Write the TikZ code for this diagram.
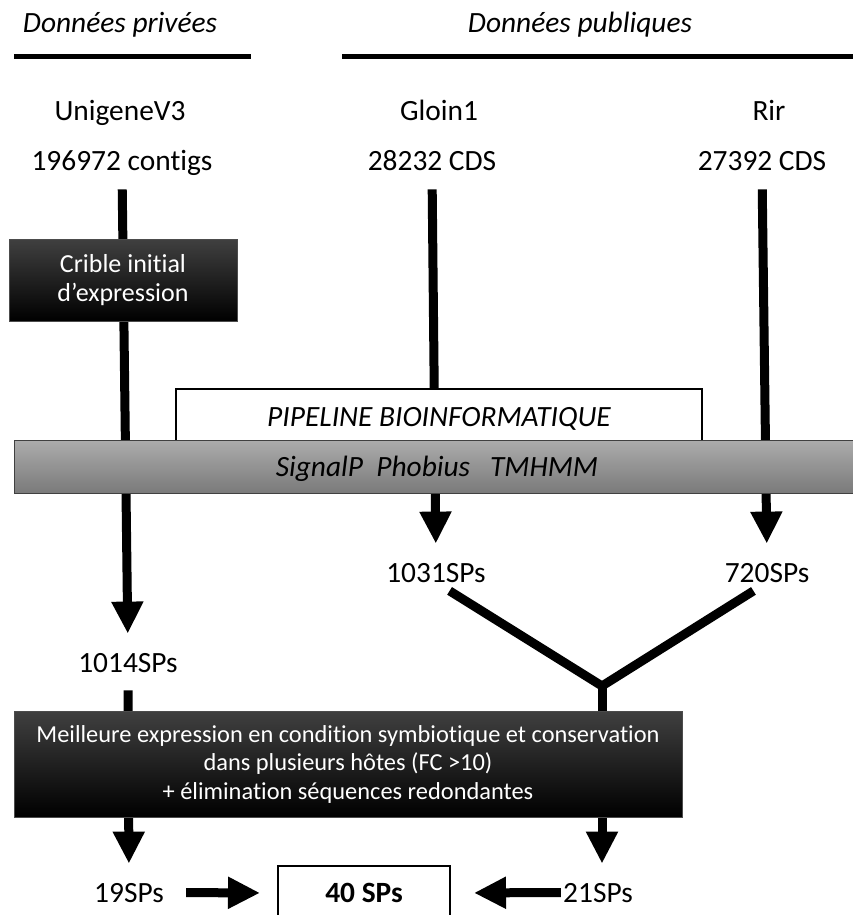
\documentclass[tikz,border=0pt]{standalone}
\usepackage{fontspec}
\setmainfont{Carlito}[Ligatures=NoCommon]
\usepackage{tikz}
\usetikzlibrary{arrows.meta}
\usetikzlibrary{positioning}
\tikzset{fleche/.style = {line width=4.5pt, shorten >=9.5pt,
                          -{Triangle[length=16pt, width=15pt]}}}
\tikzset{trait/.style = {line width=4.5pt}}
\tikzset{texte/.style = {inner sep=0pt, anchor=base, text height=9.5pt, text depth=0pt,
                         font=\fontsize{14.7}{17}\selectfont}}
\tikzset{boitenoire/.style = {draw=black!70, top color=black!75, bottom color=black,
                              text=white, align=center}}
\tikzset{barre/.style = {draw=black!75, top color=grisclair, bottom color=grisfonce,
                         text depth=0pt, font=\fontsize{14.7}{17}\selectfont\itshape}}
\definecolor{grisclair}{RGB}{172,172,172}
\definecolor{grisfonce}{RGB}{122,122,122}

\begin{document}
\begin{tikzpicture}[x=0.5pt, y=-0.5pt]
      \useasboundingbox (0, 0) rectangle (852, 915);

      % titres
      \node [texte, font=\fontsize{14.7}{17}\selectfont\itshape] (privees) at (120, 33) {Données privées};
      \node [texte, font=\fontsize{14.7}{17}\selectfont\itshape] (publiques) at (580, 33) {Données publiques};
      \draw [line width=2.5pt] (14, 57) -- (251, 57);
      \draw [line width=2.5pt] (342, 57) -- (860, 57);

      % sources
      \node [texte] (unigene) at (120, 120) {UnigeneV3};
      \node [texte] (unicount) at (122, 170) {196972 contigs};
      \node [texte] (gloin) at (439, 120) {Gloin1};
      \node [texte] (gloincount) at (432, 170) {28232 CDS};
      \node [texte] (rir) at (769, 120) {Rir};
      \node [texte] (rircount) at (762, 170) {27392 CDS};

      % resultats
      \node [texte] (sp1031) at (436, 582) {1031SPs};
      \node [texte] (sp720) at (767, 582) {720SPs};
      \node [texte] (sp1014) at (128, 672) {1014SPs};
      \node [texte] (sp19) at (129, 902) {19SPs};
      \node [texte] (sp21) at (598, 902) {21SPs};
      \node [draw, line width=1pt, minimum width=86pt, minimum height=27pt,
             font=\fontsize{14.7}{17}\selectfont\bfseries] (total) at (364, 893) {40 SPs};
      \coordinate (fusion) at (602, 686);

      \draw [fleche, shorten <=9.5pt] (unicount.south) -- (sp1014.north);
      \draw [fleche, shorten <=9.5pt] (gloincount.south) -- (sp1031.north);
      \draw [fleche, shorten <=9.5pt] (rircount.south) -- (sp720.north);
      \draw [trait, shorten <=8pt, shorten >=8pt] (sp1031.south) -- (fusion) -- (sp720.south);
      \draw [fleche] (fusion) -- (fusion |- sp21.north);
      \draw [fleche, shorten <=9pt] (sp1014.south) -- (sp19.north);
      \draw [fleche, shorten <=11pt, shorten >=8.5pt] (sp19.east) -- (total.west);
      \draw [fleche, shorten <=1pt, shorten >=11.5pt] (sp21.west) -- (total.east);

      % boites
      \node [boitenoire, minimum width=114pt, minimum height=41pt,
             font=\fontsize{13}{14.5}\selectfont] (crible) at (123, 280) {Crible initial\\d’expression};
      \node [draw, fill=white, line width=0.8pt, minimum width=263pt, minimum height=28pt, text depth=0pt,
             font=\fontsize{14.7}{17}\selectfont\itshape] (pipeline) at (439, 417) {PIPELINE BIOINFORMATIQUE};
      \node [barre, minimum width=423pt, minimum height=26.5pt] (outils) at (437, 466.5) {SignalP\ \ Phobius\ \ \ TMHMM};
      \node [boitenoire, minimum width=334pt, minimum height=53pt,
             font=\fontsize{12.2}{14.25}\selectfont] (selection) at (348, 764)
            {Meilleure expression en condition symbiotique et conservation\\dans plusieurs hôtes (FC >10)\\+ élimination séquences redondantes};
\end{tikzpicture}
\end{document}
